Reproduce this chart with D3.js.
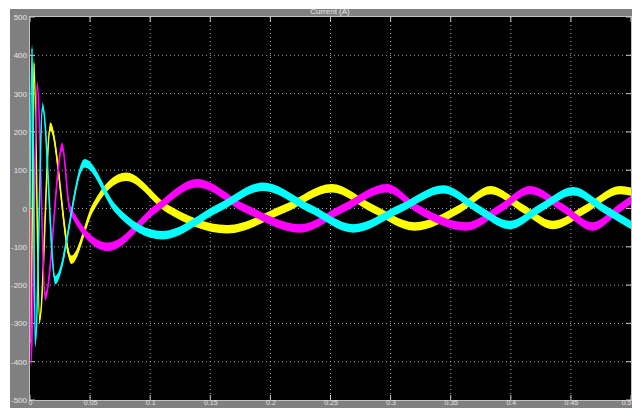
<!DOCTYPE html>
<html>
<head>
<meta charset="utf-8">
<script src="https://cdn.jsdelivr.net/npm/d3@7"></script>
<style>
  body { margin: 0; background: #fff; }
  svg text { font-family: "Liberation Sans", Arial, sans-serif; }
</style>
</head>
<body>
<div id="chart-area"></div>
<script>

// scope: Current (A), three phases, [time s, current A]
let xTicks = [0, 0.05, 0.1, 0.15, 0.2, 0.25, 0.3, 0.35, 0.4, 0.45, 0.5];
let yTicks = [-500, -400, -300, -200, -100, 0, 100, 200, 300, 400, 500];

let phaseA = [ // yellow
    [0, 0], [0.0006, -350], [0.0033, 379], [0.008, -291], [0.0169, 214], [0.0344, -134],
    [0.052, 0], [0.080, 83], [0.114, 0], [0.164, -54], [0.212, 0], [0.251, 53],
    [0.285, 0], [0.320, -47], [0.358, 0], [0.383, 48], [0.410, 0], [0.435, -43],
    [0.463, 0], [0.491, 48], [0.5, 44]
];
let phaseB = [ // magenta
    [0, 0], [0.001, -400], [0.006, 322], [0.0127, -230], [0.0269, 161], [0.033, 0],
    [0.065, -100], [0.105, 0], [0.139, 66], [0.179, 0], [0.225, -52], [0.260, 0],
    [0.297, 53], [0.322, 0], [0.363, -47], [0.391, 0], [0.416, 48], [0.444, 0],
    [0.468, -47], [0.49, 0], [0.5, 22]
];
let phaseC = [ // cyan
    [0, 0], [0.0017, 418], [0.0044, -352], [0.0105, 266], [0.021, -187], [0.0455, 118],
    [0.071, 0], [0.110, -70], [0.156, 0], [0.194, 57], [0.233, 0], [0.269, -52],
    [0.308, 0], [0.344, 50], [0.372, 0], [0.399, -43], [0.424, 0], [0.452, 45],
    [0.477, 0], [0.5, -43]
];

let series = [
    {name: "a", values: phaseA, color: "#ffff00"},
    {name: "b", values: phaseB, color: "#ff00ff"},
    {name: "c", values: phaseC, color: "#00ffff"}
];

let W = 632, H = 408;
let plot = {left: 30, top: 17, right: 631, bottom: 400};

let svg = d3.select("#chart-area").append("svg")
    .attr("width", W)
    .attr("height", H);

// scope window background
svg.append("rect")
    .attr("x", 10).attr("y", 9)
    .attr("width", W - 10).attr("height", H - 9)
    .attr("fill", "#808080");

svg.append("rect")
    .attr("x", plot.left).attr("y", plot.top)
    .attr("width", plot.right - plot.left).attr("height", plot.bottom - plot.top)
    .attr("fill", "#000");

let x = d3.scaleLinear().domain([0, 0.5]).range([plot.left, plot.right]);
let y = d3.scaleLinear().domain([-500, 500]).range([plot.bottom, plot.top]);

// dotted grid
svg.append("g").selectAll("line")
    .data(xTicks.slice(1, -1))
    .enter().append("line")
    .attr("x1", d => x(d)).attr("x2", d => x(d))
    .attr("y1", plot.top).attr("y2", plot.bottom)
    .attr("stroke", "#a8a8a8")
    .attr("stroke-dasharray", "1,3");

svg.append("g").selectAll("line")
    .data(yTicks.slice(1, -1))
    .enter().append("line")
    .attr("y1", d => y(d)).attr("y2", d => y(d))
    .attr("x1", plot.left).attr("x2", plot.right)
    .attr("stroke", "#a8a8a8")
    .attr("stroke-dasharray", "1,3");

// inner tick marks on all four sides
let tickLen = 5;
let tk = svg.append("g").attr("stroke", "#c8c8c8");
xTicks.forEach(function(d) {
    tk.append("line").attr("x1", x(d)).attr("x2", x(d)).attr("y1", plot.top).attr("y2", plot.top + tickLen);
    tk.append("line").attr("x1", x(d)).attr("x2", x(d)).attr("y1", plot.bottom).attr("y2", plot.bottom - tickLen);
});
yTicks.forEach(function(d) {
    tk.append("line").attr("y1", y(d)).attr("y2", y(d)).attr("x1", plot.left).attr("x2", plot.left + tickLen);
    tk.append("line").attr("y1", y(d)).attr("y2", y(d)).attr("x1", plot.right).attr("x2", plot.right - tickLen);
});

// traces: thick noisy band -> area around the value, plus a thin line for steep parts
let band = 11;
let area = d3.area()
    .curve(d3.curveMonotoneX)
    .x(d => x(d[0]))
    .y0(d => y(d[1] - band))
    .y1(d => y(d[1] + band));
let line = d3.line()
    .curve(d3.curveMonotoneX)
    .x(d => x(d[0]))
    .y(d => y(d[1]));

let traces = svg.append("g");
series.forEach(function(s) {
    traces.append("path")
        .attr("d", area(s.values))
        .attr("fill", s.color);
    traces.append("path")
        .attr("d", line(s.values))
        .attr("fill", "none")
        .attr("stroke", s.color)
        .attr("stroke-width", 1.6);
});

// frame
svg.append("rect")
    .attr("x", plot.left - 0.5).attr("y", plot.top - 0.5)
    .attr("width", plot.right - plot.left + 1).attr("height", plot.bottom - plot.top + 1)
    .attr("fill", "none")
    .attr("stroke", "#c0c0c0");

// axis labels
let xAxis = d3.axisBottom(x).tickValues(xTicks).tickSize(0).tickPadding(1)
    .tickFormat(d => String(d));
let yAxis = d3.axisLeft(y).tickValues(yTicks).tickSize(0).tickPadding(3)
    .tickFormat(d => String(d));

let gx = svg.append("g").attr("transform", "translate(0," + plot.bottom + ")").call(xAxis);
let gy = svg.append("g").attr("transform", "translate(" + plot.left + ",0)").call(yAxis);
gx.select(".domain").remove();
gy.select(".domain").remove();
gx.selectAll("text")
    .attr("fill", "#e6e6e6")
    .attr("dy", "0.6em")
    .style("font-size", "7px");
// last label sits on the right edge
gx.selectAll("text").filter(d => d === 0.5).attr("text-anchor", "end");
gy.selectAll("text")
    .attr("fill", "#e6e6e6")
    .style("font-size", "8px");

svg.append("text")
    .attr("x", 330)
    .attr("y", 14)
    .attr("text-anchor", "middle")
    .attr("fill", "#e6e6e6")
    .style("font-size", "8px")
    .text("Current (A)");

</script>
</body>
</html>
